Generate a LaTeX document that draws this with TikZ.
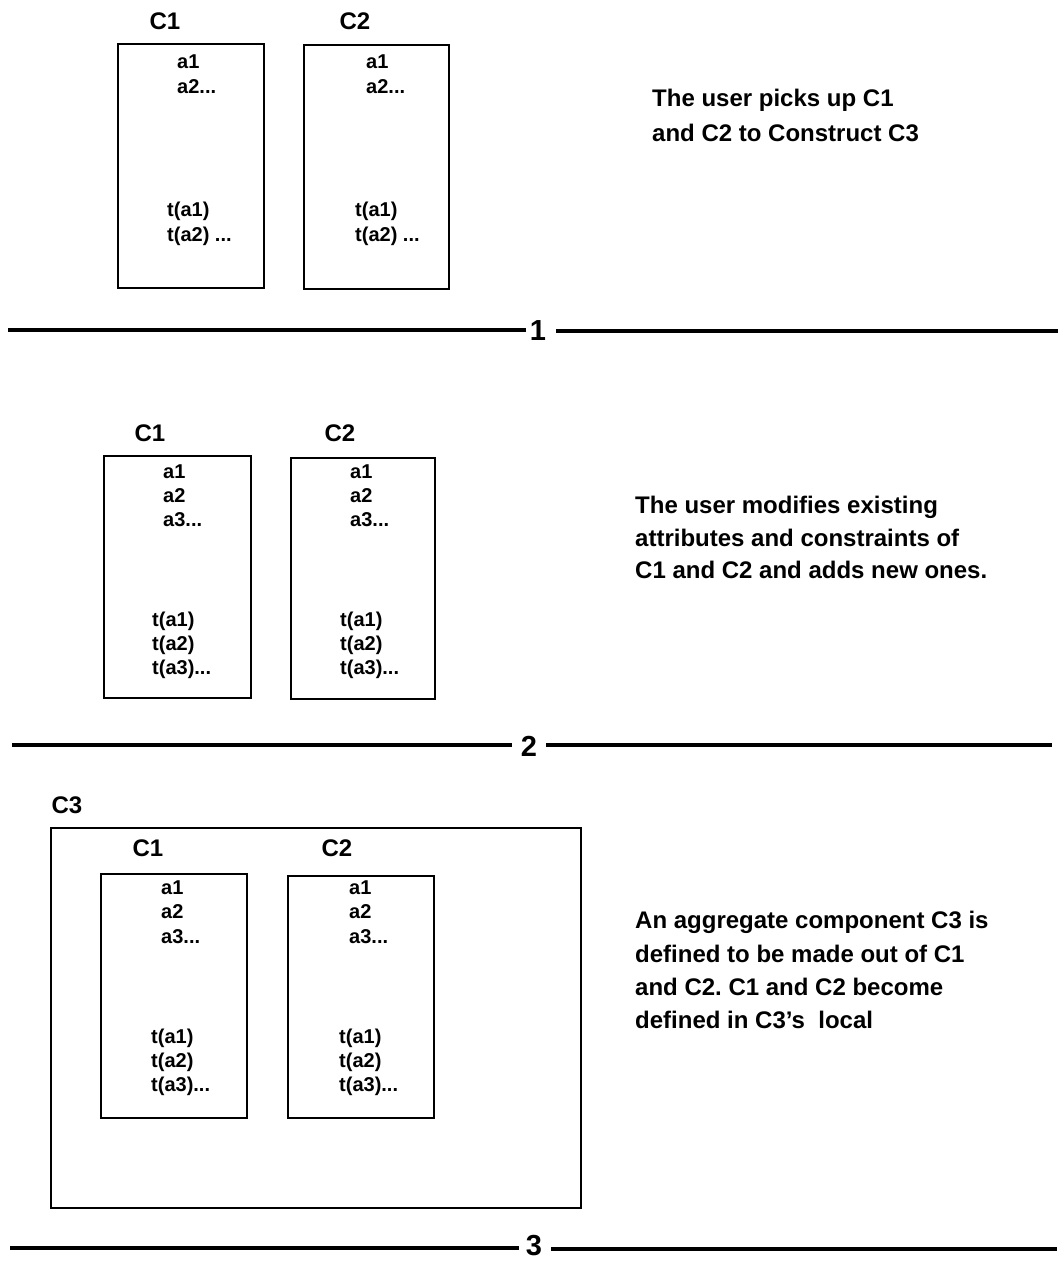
\documentclass[tikz,border=0pt]{standalone}
\usepackage{fontspec}
\setmainfont{Liberation Sans}
\frenchspacing
\newcommand\myitmfont{\fontsize{20}{23}\selectfont\bfseries}
\newcommand\mylblfont{\fontsize{24}{28}\selectfont\bfseries}
\newcommand\mydescfont{\fontsize{24}{28}\selectfont\bfseries}
\newcommand\mynumfont{\fontsize{29}{32}\selectfont\bfseries}
\begin{document}
\begin{tikzpicture}[x=1pt,y=-1pt,
  box/.style={draw, line width=2.2pt, anchor=north west, inner sep=0pt},
  lbl/.style={font=\mylblfont, anchor=base, inner sep=0pt},
  itm/.style={font=\myitmfont, anchor=base west, inner sep=0pt},
  desc/.style={font=\mydescfont, anchor=base west, inner sep=0pt},
  num/.style={font=\mynumfont, inner sep=0pt},
  sep/.style={line width=3.6pt}]
\useasboundingbox (0,0) rectangle (1060,1263);
% ---------- panel 1
\node[box, minimum width=146pt, minimum height=244pt] (p1c1) at (117,43) {};
\node[box, minimum width=145pt, minimum height=244pt] (p1c2) at (303,44) {};
\node[lbl] (p1l1) at (165,30) {C1};
\node[lbl] (p1l2) at (355,30) {C2};
\node[itm] (p1a1) at (177,68) {a1};
\node[itm] (p1a2) at (177,93) {a2...};
\node[itm] (p1t1) at (167,216) {t(a1)};
\node[itm] (p1t2) at (167,241) {t(a2) ...};
\node[itm] (p1b1) at (366,68) {a1};
\node[itm] (p1b2) at (366,93) {a2...};
\node[itm] (p1u1) at (355,216) {t(a1)};
\node[itm] (p1u2) at (355,241) {t(a2) ...};
\node[desc] (p1d1) at (652,106) {The user picks up C1};
\node[desc] (p1d2) at (652,141) {and C2 to Construct C3};
\node[num] (n1) at (538,331) {1};
\coordinate (s1a) at (8,330);
\coordinate (s1b) at (1058,331);
\draw[sep] (s1a) -- ([xshift=-12pt]n1.center |- s1a);
\draw[sep] ([xshift=18pt]n1.center |- s1b) -- (s1b);
% ---------- panel 2
\node[box, minimum width=147pt, minimum height=242pt] (p2c1) at (103,455) {};
\node[box, minimum width=144pt, minimum height=241pt] (p2c2) at (290,457) {};
\node[lbl] (p2l1) at (150,441) {C1};
\node[lbl] (p2l2) at (340,441) {C2};
\node[itm] (p2a1) at (163,478) {a1};
\node[itm] (p2a2) at (163,502) {a2};
\node[itm] (p2a3) at (163,526) {a3...};
\node[itm] (p2t1) at (152,626) {t(a1)};
\node[itm] (p2t2) at (152,650) {t(a2)};
\node[itm] (p2t3) at (152,674) {t(a3)...};
\node[itm] (p2b1) at (350,478) {a1};
\node[itm] (p2b2) at (350,502) {a2};
\node[itm] (p2b3) at (350,526) {a3...};
\node[itm] (p2u1) at (340,626) {t(a1)};
\node[itm] (p2u2) at (340,650) {t(a2)};
\node[itm] (p2u3) at (340,674) {t(a3)...};
\node[desc] (p2d1) at (635,513) {The user modifies existing};
\node[desc] (p2d2) at (635,546) {attributes and constraints of};
\node[desc] (p2d3) at (635,578) {C1 and C2 and adds new ones.};
\node[num] (n2) at (529,746) {2};
\coordinate (s2a) at (12,745);
\coordinate (s2b) at (1052,745);
\draw[sep] (s2a) -- ([xshift=-17pt]n2.center |- s2a);
\draw[sep] ([xshift=17pt]n2.center |- s2b) -- (s2b);
% ---------- panel 3
\node[box, minimum width=530pt, minimum height=380pt] (p3c3) at (50,827) {};
\node[lbl] (p3l3) at (67,813) {C3};
\node[box, minimum width=146pt, minimum height=244pt] (p3c1) at (100,873) {};
\node[box, minimum width=146pt, minimum height=242pt] (p3c2) at (287,875) {};
\node[lbl] (p3l1) at (148,856) {C1};
\node[lbl] (p3l2) at (337,856) {C2};
\node[itm] (p3a1) at (161,894) {a1};
\node[itm] (p3a2) at (161,918) {a2};
\node[itm] (p3a3) at (161,943) {a3...};
\node[itm] (p3t1) at (151,1043) {t(a1)};
\node[itm] (p3t2) at (151,1067) {t(a2)};
\node[itm] (p3t3) at (151,1091) {t(a3)...};
\node[itm] (p3b1) at (349,894) {a1};
\node[itm] (p3b2) at (349,918) {a2};
\node[itm] (p3b3) at (349,943) {a3...};
\node[itm] (p3u1) at (339,1043) {t(a1)};
\node[itm] (p3u2) at (339,1067) {t(a2)};
\node[itm] (p3u3) at (339,1091) {t(a3)...};
\node[desc] (p3d1) at (635,928) {An aggregate component C3 is};
\node[desc] (p3d2) at (635,962) {defined to be made out of C1};
\node[desc] (p3d3) at (635,995) {and C2. C1 and C2 become};
\node[desc] (p3d4) at (635,1028) {defined in C3's\ \ local};
\node[num] (n3) at (534,1246) {3};
\coordinate (s3a) at (10,1248);
\coordinate (s3b) at (1057,1249);
\draw[sep] (s3a) -- ([xshift=-15pt]n3.center |- s3a);
\draw[sep] ([xshift=17pt]n3.center |- s3b) -- (s3b);
\end{tikzpicture}
\end{document}
